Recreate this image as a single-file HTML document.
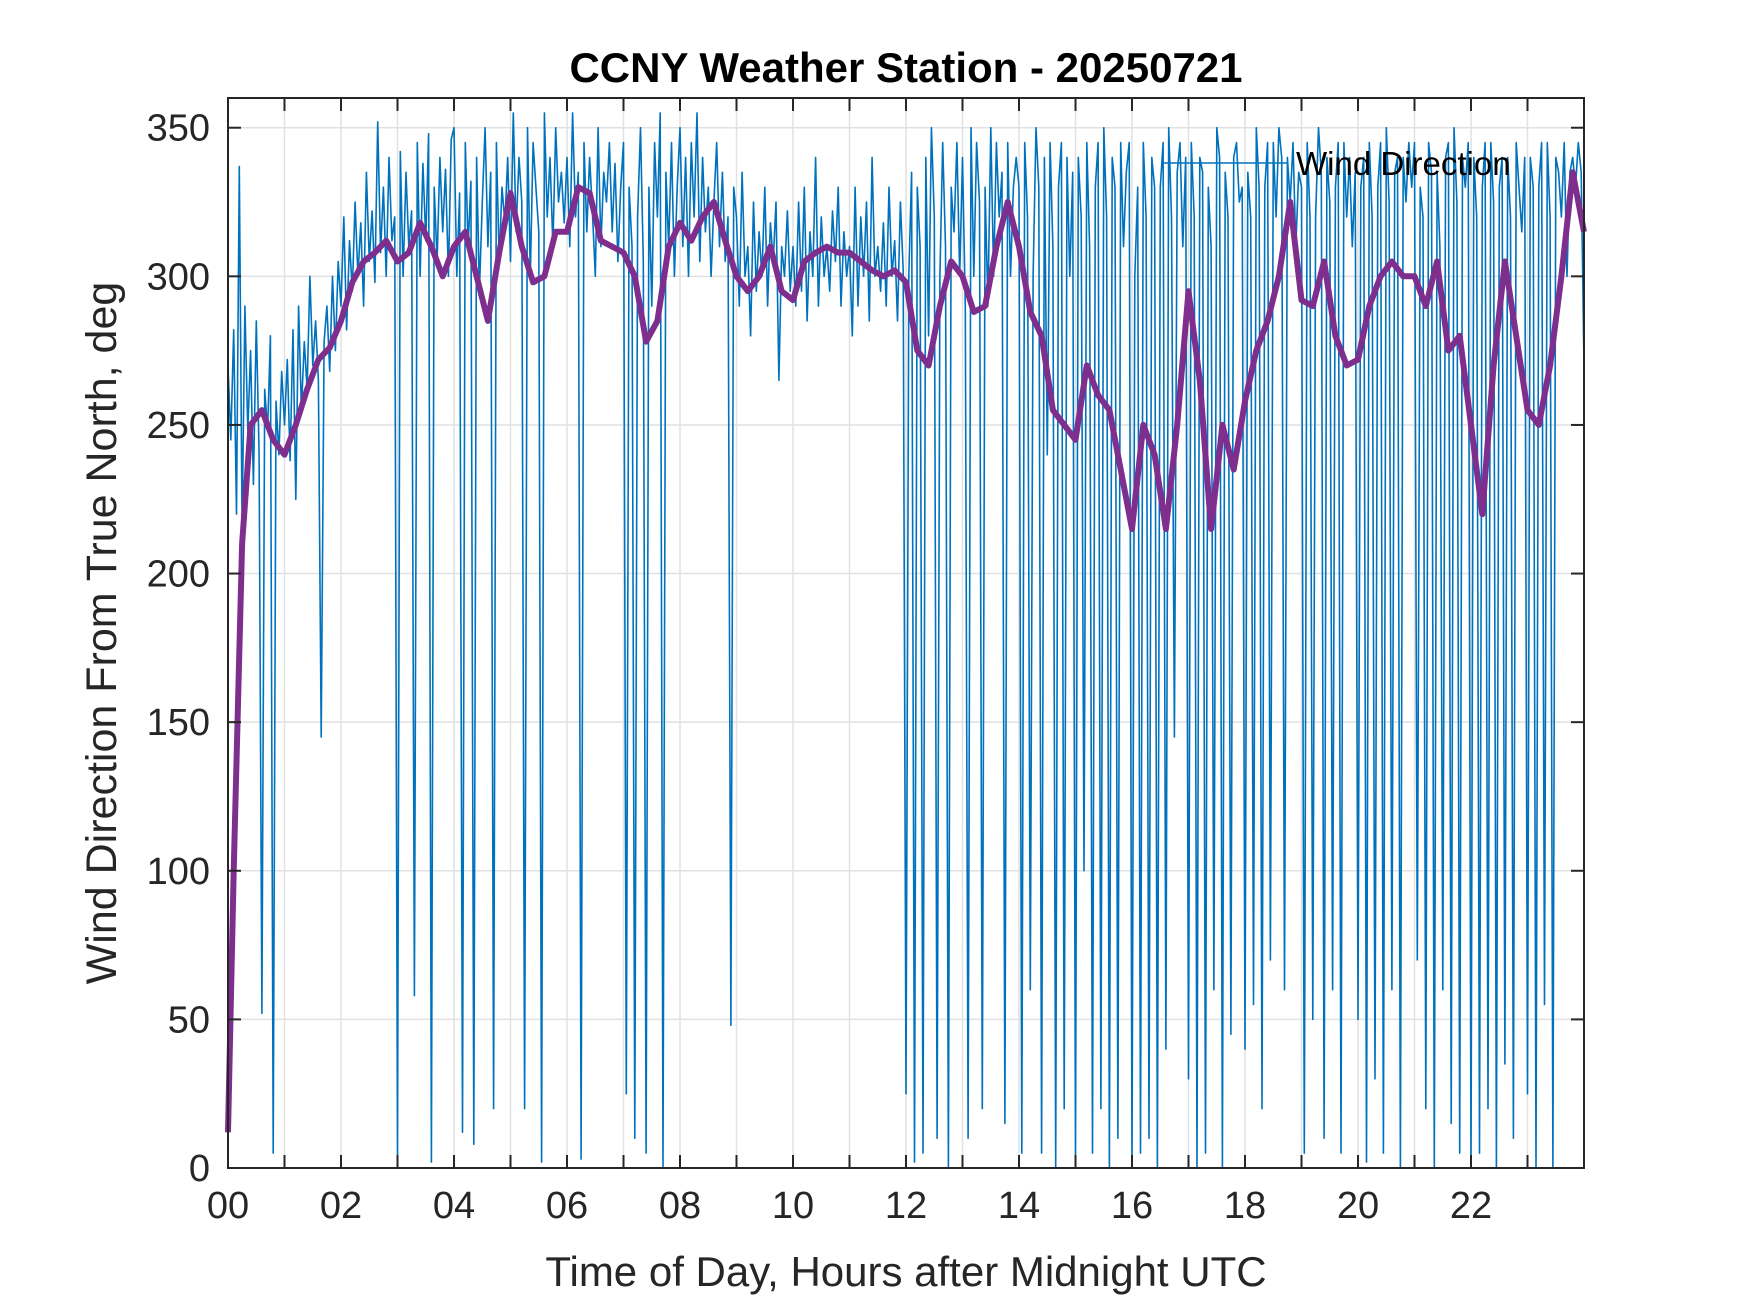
<!DOCTYPE html>
<html><head><meta charset="utf-8"><style>
body{margin:0;background:#fff}
svg{display:block;font-family:"Liberation Sans",Arial,sans-serif}
</style></head><body>
<svg id="chart" width="1750" height="1313" viewBox="0 0 1750 1313">
<rect width="1750" height="1313" fill="#fff"/>
<text x="906" y="82" text-anchor="middle" font-size="42" font-weight="bold" fill="#000">CCNY Weather Station - 20250721</text>
<g id="grid"></g>
<g id="series"></g>
<g id="axes"></g>
<text x="906" y="1286" text-anchor="middle" font-size="42" fill="#262626">Time of Day, Hours after Midnight UTC</text>
<text transform="translate(116,633) rotate(-90)" text-anchor="middle" font-size="43" fill="#262626">Wind Direction From True North, deg</text>
<g>
<line x1="1162" y1="163" x2="1287" y2="163" stroke="#0072BD" stroke-width="1.5"/>
<text x="1296" y="175" font-size="33" fill="#000">Wind Direction</text>
</g>
</svg>
<script>
const xTicks=[0,1,2,3,4,5,6,7,8,9,10,11,12,13,14,15,16,17,18,19,20,21,22,23,24];
const xTickLabels=["00","","02","","04","","06","","08","","10","","12","","14","","16","","18","","20","","22","",""];
const yTicks=[0,50,100,150,200,250,300,350];
const yTickLabels=["0","50","100","150","200","250","300","350"];
const samplesPerHour=20;
const windDir=[
270,245,282,220,337,215,290,248,275,230,285,240,52,262,248,280,5,258,240,268,
250,272,238,282,225,290,255,278,262,300,270,285,265,145,278,290,268,300,275,305,
290,320,282,312,295,325,300,318,290,335,305,322,298,352,308,330,300,340,312,320,
4,342,300,335,310,322,58,345,300,338,312,348,2,330,305,340,315,336,300,346,
350,300,328,12,345,310,332,8,340,295,325,350,310,335,20,345,305,330,318,340,
305,355,315,340,325,20,350,300,345,330,315,2,355,320,340,310,350,325,335,318,
340,310,355,320,335,3,345,315,340,322,300,350,310,335,325,345,315,338,305,330,
345,25,330,310,10,320,350,305,5,330,290,345,320,355,0,335,310,345,300,330,
350,310,340,300,345,320,355,305,340,315,330,300,325,345,310,335,305,320,48,330,
320,290,335,300,310,280,325,295,315,300,330,290,318,305,325,265,310,300,322,295,
310,290,325,295,330,285,315,300,340,290,320,300,310,295,322,305,330,290,315,300,
310,280,330,290,320,300,325,285,340,300,310,295,318,290,330,300,312,285,325,302,
25,300,335,2,330,310,5,340,280,350,320,10,300,345,310,0,330,315,345,300,
340,290,10,350,300,345,325,20,330,290,350,300,345,320,335,15,345,300,330,340,
330,5,345,320,60,300,350,330,5,340,240,345,310,0,330,345,20,340,300,335,
2,340,320,100,345,310,5,330,345,20,350,320,0,340,330,10,345,310,335,345,
0,300,330,5,345,320,10,340,330,0,330,345,40,350,320,145,335,345,310,340,
30,345,320,0,340,335,5,330,310,60,350,340,0,335,320,45,340,345,325,330,
40,335,320,55,350,330,20,330,345,70,345,320,350,340,60,340,325,345,310,335,
330,5,345,320,50,320,350,335,10,340,325,60,330,345,5,345,320,340,310,335,
50,330,340,2,345,320,30,330,345,5,350,325,60,335,340,0,340,325,345,330,
345,70,330,320,20,345,335,0,335,310,60,340,345,15,350,325,5,340,330,345,
0,340,320,5,330,345,20,345,325,0,330,340,35,340,320,10,345,330,315,340,
25,340,330,0,330,345,55,345,320,0,340,335,320,345,300,335,340,330,345,335,
270];
const smoothTimes=[0,0.1,0.25,0.4,0.6,0.8,1.0,1.2,1.4,1.6,1.8,2.0,2.2,2.4,2.6,2.8,3.0,3.2,3.4,3.6,3.8,4.0,4.2,4.4,4.6,4.8,5.0,5.2,5.4,5.6,5.8,6.0,6.2,6.4,6.6,6.8,7.0,7.2,7.4,7.6,7.8,8.0,8.2,8.4,8.6,8.8,9.0,9.2,9.4,9.6,9.8,10.0,10.2,10.4,10.6,10.8,11.0,11.2,11.4,11.6,11.8,12.0,12.2,12.4,12.6,12.8,13.0,13.2,13.4,13.6,13.8,14.0,14.2,14.4,14.6,14.8,15.0,15.2,15.4,15.6,15.8,16.0,16.2,16.4,16.6,16.8,17.0,17.2,17.4,17.6,17.8,18.0,18.2,18.4,18.6,18.8,19.0,19.2,19.4,19.6,19.8,20.0,20.2,20.4,20.6,20.8,21.0,21.2,21.4,21.6,21.8,22.0,22.2,22.4,22.6,22.8,23.0,23.2,23.4,23.6,23.8,24.0];
const smoothDir=[12,100,210,250,255,245,240,250,262,272,276,285,298,305,308,312,305,308,318,310,300,310,315,300,285,308,328,310,298,300,315,315,330,328,312,310,308,300,278,285,310,318,312,320,325,312,300,295,300,310,295,292,305,308,310,308,308,305,302,300,302,298,275,270,290,305,300,288,290,310,325,310,288,280,255,250,245,270,260,255,235,215,250,240,215,250,295,265,215,250,235,258,275,285,300,325,292,290,305,280,270,272,290,300,305,300,300,290,305,275,280,250,220,270,305,280,255,250,270,300,335,315];

const L=228,R=1584,T=98,B=1168;
const xs=h=>L+(h/24)*(R-L);
const ys=v=>B-(v/360)*(B-T);
const NS="http://www.w3.org/2000/svg";
function mk(tag,attrs,parent){const e=document.createElementNS(NS,tag);for(const k in attrs)e.setAttribute(k,attrs[k]);parent.appendChild(e);return e;}
const grid=document.getElementById('grid'),series=document.getElementById('series'),axes=document.getElementById('axes');
xTicks.forEach((t,i)=>{
  if(t>0&&t<24){const g=mk('line',{x1:xs(t),x2:xs(t),y1:T,y2:B,stroke:'#e1e1e1','stroke-width':1.5},grid);
  
  }
});
yTicks.forEach(v=>{
  const g=mk('line',{x1:L,x2:R,y1:ys(v),y2:ys(v),stroke:'#e1e1e1','stroke-width':1.5},grid);
  
  
});
let d='';windDir.forEach((v,i)=>{d+=(i?'L':'M')+xs(i/samplesPerHour).toFixed(1)+' '+ys(v).toFixed(1);});
const p1=mk('path',{d:d,fill:'none',stroke:'#0072BD','stroke-width':1.6,'stroke-linejoin':'round'},series);


let d2='';smoothDir.forEach((v,i)=>{d2+=(i?'L':'M')+xs(smoothTimes[i]).toFixed(1)+' '+ys(v).toFixed(1);});
const p2=mk('path',{d:d2,fill:'none',stroke:'#7E2F8E','stroke-width':6,'stroke-linejoin':'round'},series);


const box=mk('rect',{x:L,y:T,width:R-L,height:B-T,fill:'none',stroke:'#262626','stroke-width':2},axes);


xTicks.forEach((t,i)=>{
  const a=mk('line',{x1:xs(t),x2:xs(t),y1:B,y2:B-13,stroke:'#262626','stroke-width':2},axes);
  
  
  const b=mk('line',{x1:xs(t),x2:xs(t),y1:T,y2:T+13,stroke:'#262626','stroke-width':2},axes);
  
  
  if(xTickLabels[i]){const tx=mk('text',{x:xs(t),y:B+50,'text-anchor':'middle','font-size':38,fill:'#262626'},axes);tx.textContent=xTickLabels[i];
  
  }
});
yTicks.forEach((v,i)=>{
  const a=mk('line',{x1:L,x2:L+13,y1:ys(v),y2:ys(v),stroke:'#262626','stroke-width':2},axes);
  
  
  const b=mk('line',{x1:R,x2:R-13,y1:ys(v),y2:ys(v),stroke:'#262626','stroke-width':2},axes);
  
  
  const tx=mk('text',{x:L-18,y:ys(v)+13,'text-anchor':'end','font-size':38,fill:'#262626'},axes);tx.textContent=yTickLabels[i];
  
  
});
</script>
</body></html>
